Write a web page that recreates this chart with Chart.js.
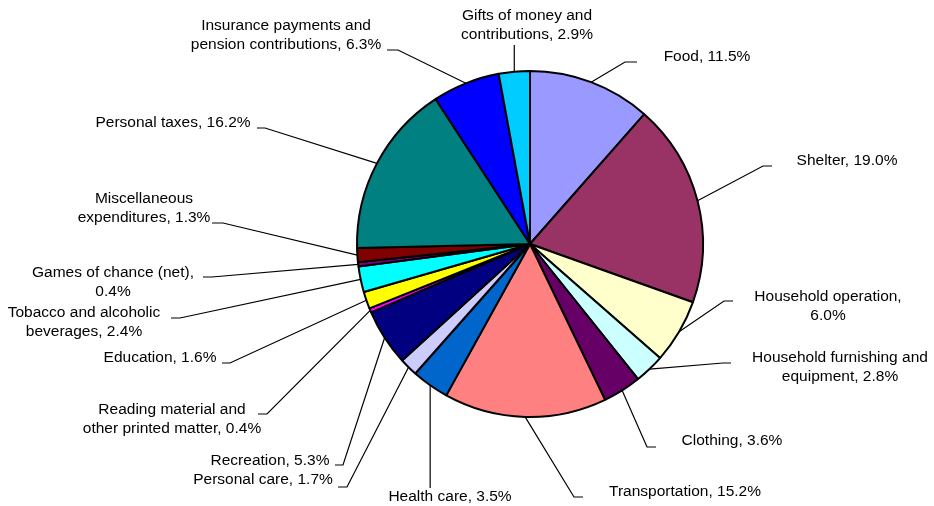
<!DOCTYPE html>
<html>
<head>
<meta charset="utf-8">
<script src="https://cdn.jsdelivr.net/npm/chart.js@4/dist/chart.umd.min.js"></script>
<style>
    body { margin: 0; background: #fff; }
    canvas { display: block; }
</style>
</head>
<body>
<canvas id="spendChart" width="934" height="506"></canvas>
<script>
const categories = [
    'Food', 'Shelter', 'Household operation', 'Household furnishing and equipment',
    'Clothing', 'Transportation', 'Health care', 'Personal care', 'Recreation',
    'Reading material and other printed matter', 'Education',
    'Tobacco and alcoholic beverages', 'Games of chance (net)',
    'Miscellaneous expenditures', 'Personal taxes',
    'Insurance payments and pension contributions', 'Gifts of money and contributions'
];
const shares = [11.5, 19.0, 6.0, 2.8, 3.6, 15.2, 3.5, 1.7, 5.3, 0.4, 1.6, 2.4, 0.4, 1.3, 16.2, 6.3, 2.9];
const sliceColors = [
    '#9999FF', '#993366', '#FFFFCC', '#CCFFFF', '#660066', '#FF8080', '#0066CC', '#CCCCFF',
    '#000080', '#FF00FF', '#FFFF00', '#00FFFF', '#800080', '#800000', '#008080', '#0000FF', '#00CCFF'
];

// label placement: text block centre, leader elbow, horizontal run, words on first line
const labelSpots = [
    { tx: 707, ty: 57,  ex: 625, ey: 62,  run: 12,  wrap: 0 },
    { tx: 847, ty: 161, ex: 763, ey: 166, run: 9,   wrap: 0 },
    { tx: 828, ty: 306, ex: 724, ey: 301, run: 9,   wrap: 2 },
    { tx: 840, ty: 367, ex: 723, ey: 363, run: 8,   wrap: 3 },
    { tx: 732, ty: 441, ex: 647, ey: 447, run: 9,   wrap: 0 },
    { tx: 685, ty: 492, ex: 574, ey: 497, run: 9,   wrap: 0 },
    { tx: 450, ty: 497, ex: null, ey: 488, run: 0,  wrap: 0 },
    { tx: 263, ty: 480, ex: 347, ey: 487, run: -9,  wrap: 0 },
    { tx: 270, ty: 461, ex: 343, ey: 465, run: -8,  wrap: 0 },
    { tx: 172, ty: 419, ex: 267, ey: 414, run: -9,  wrap: 3 },
    { tx: 160, ty: 358, ex: 230, ey: 363, run: -8,  wrap: 0 },
    { tx: 84,  ty: 322, ex: 180, ey: 318, run: -9,  wrap: 3 },
    { tx: 113, ty: 282, ex: 212, ey: 277, run: -9,  wrap: 4 },
    { tx: 144, ty: 208, ex: 223, ey: 223, run: -11, wrap: 1 },
    { tx: 173, ty: 123, ex: 265, ey: 128, run: -8,  wrap: 0 },
    { tx: 286, ty: 35,  ex: 398, ey: 50,  run: -11, wrap: 3 },
    { tx: 527, ty: 25,  ex: null, ey: 45, run: 0,   wrap: 4 }
];

function labelLines(i) {
    const words = (categories[i] + ', ' + shares[i].toFixed(1) + '%').split(' ');
    const cut = labelSpots[i].wrap;
    if (!cut) return [words.join(' ')];
    return [words.slice(0, cut).join(' '), words.slice(cut).join(' ')];
}

const leaderLabels = {
    id: 'leaderLabels',
    afterDatasetsDraw(chart) {
        const ctx = chart.ctx;
        const arcs = chart.getDatasetMeta(0).data;
        ctx.save();
        ctx.strokeStyle = '#000';
        ctx.fillStyle = '#000';
        ctx.lineWidth = 1.2;
        ctx.font = '15.5px "Liberation Sans", Arial, sans-serif';
        ctx.textAlign = 'center';
        ctx.textBaseline = 'middle';

        arcs.forEach((arc, i) => {
            const p = arc.getProps(['x', 'y', 'startAngle', 'endAngle', 'outerRadius'], true);
            const mid = (p.startAngle + p.endAngle) / 2;
            const ax = p.x + Math.cos(mid) * p.outerRadius;
            const ay = p.y + Math.sin(mid) * p.outerRadius;
            const spot = labelSpots[i];
            const ex = spot.ex === null ? ax : spot.ex;

            ctx.beginPath();
            ctx.moveTo(ax, ay);
            ctx.lineTo(ex, spot.ey);
            if (spot.run) ctx.lineTo(ex + spot.run, spot.ey);
            ctx.stroke();

            const lines = labelLines(i);
            const lh = 18.5;
            const top = spot.ty - (lines.length - 1) * lh / 2;
            lines.forEach((line, k) => ctx.fillText(line, spot.tx, top + k * lh));
        });
        ctx.restore();
    }
};

new Chart(document.getElementById('spendChart').getContext('2d'), {
    type: 'pie',
    data: {
        labels: categories,
        datasets: [{
            data: shares,
            backgroundColor: sliceColors,
            borderColor: '#000',
            borderWidth: 2
        }]
    },
    options: {
        responsive: false,
        animation: false,
        layout: { padding: { left: 356, right: 230, top: 70, bottom: 88 } },
        plugins: {
            legend: { display: false },
            tooltip: { enabled: false }
        }
    },
    plugins: [leaderLabels]
});
</script>
</body>
</html>
